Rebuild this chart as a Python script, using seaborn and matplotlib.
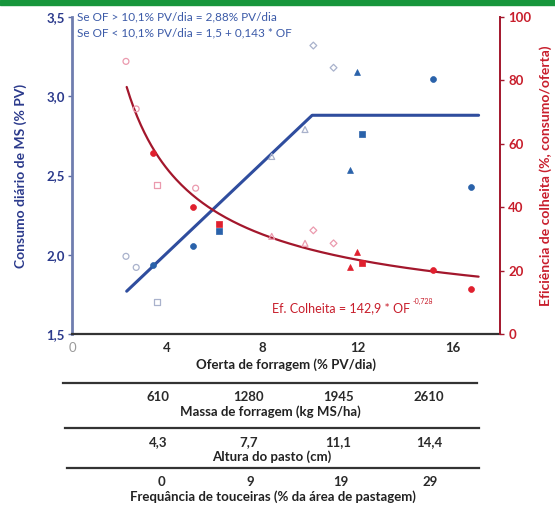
import numpy as np
import pandas as pd
import matplotlib
matplotlib.use("Agg")
import matplotlib.pyplot as plt
from matplotlib.patches import Rectangle
import seaborn as sns

sns.set_style("white")
plt.rcParams["font.family"] = ["Lato", "DejaVu Sans"]

# ---- data -------------------------------------------------------------
# Oferta de forragem (% PV/dia), consumo (% PV) and eficiência de colheita (%)
of_aberto_circulo = [2.27, 2.7, 5.2]
cons_aberto_circulo = [1.99, 1.92, np.nan]
ef_aberto_circulo = [86.0, 71.0, 46.0]

of_aberto_quadrado = [3.58]
cons_aberto_quadrado = [1.70]
ef_aberto_quadrado = [47.0]

of_aberto_triangulo = [8.4, 9.8]
cons_aberto_triangulo = [2.62, 2.79]
ef_aberto_triangulo = [30.8, 28.6]

of_aberto_losango = [10.15, 11.0]
cons_aberto_losango = [3.32, 3.18]
ef_aberto_losango = [32.7, 28.6]

of_cheio_circulo = [3.4, 5.1, 15.2, 16.8]
cons_cheio_circulo = [1.935, 2.055, 3.11, 2.43]
ef_cheio_circulo = [57.0, 40.0, 20.1, 14.2]

of_cheio_quadrado = [6.2, 12.2]
cons_cheio_quadrado = [2.15, 2.76]
ef_cheio_quadrado = [34.6, 22.3]

of_cheio_triangulo = [11.7, 12.0]
cons_cheio_triangulo = [2.535, 3.15]
ef_cheio_triangulo = [21.0, 25.8]

# broken-line fit of consumption (plateau 2,88 % PV above 10,1 % PV/dia)
of_ajuste = [2.3, 10.1, 17.1]
cons_ajuste = [1.77, 2.88, 2.88]

# power fit of harvest efficiency: 142,9 * OF^-0,728
ef_coef = 142.9
ef_expoente = -0.728
of_curva_lim = (2.3, 17.1)

x_ticks = [0, 4, 8, 12, 16]
massa_labels = ["610", "1280", "1945", "2610"]
altura_labels = ["4,3", "7,7", "11,1", "14,4"]
touceira_labels = ["0", "9", "19", "29"]

# ---- colours ----------------------------------------------------------
AZUL_LINHA = "#2f4d9e"
AZUL_TXT = "#2b3a8c"
AZUL_PONTO = "#2a62aa"
AZUL_CLARO = "#a9b2cc"
VERM_LINHA = "#a3172c"
VERM_TXT = "#c81e2c"
VERM_PONTO = "#e0202e"
ROSA_CLARO = "#eb9aae"
VERDE = "#17963c"

W, H = 555, 507
fig = plt.figure(figsize=(W / 100, H / 100), dpi=100)
fig.patches.append(Rectangle((0, 1 - 5 / H), 1, 5 / H, transform=fig.transFigure,
                             color=VERDE, zorder=0))

ax = fig.add_axes([72 / W, 1 - 334 / H, 428 / W, 317 / H])
ax2 = ax.twinx()

# ---- fitted lines -----------------------------------------------------
sns.lineplot(x=of_ajuste, y=cons_ajuste, ax=ax, color=AZUL_LINHA, lw=2.2,
             zorder=2)
of_curva = np.linspace(*of_curva_lim, 200)
ef_curva = ef_coef * of_curva ** ef_expoente
sns.lineplot(x=of_curva, y=ef_curva, ax=ax2, color=VERM_LINHA, lw=1.6,
             zorder=2)

# ---- points -----------------------------------------------------------
grupos = [
    (of_aberto_circulo, cons_aberto_circulo, ef_aberto_circulo, "o", False),
    (of_aberto_quadrado, cons_aberto_quadrado, ef_aberto_quadrado, "s", False),
    (of_aberto_triangulo, cons_aberto_triangulo, ef_aberto_triangulo, "^", False),
    (of_aberto_losango, cons_aberto_losango, ef_aberto_losango, "D", False),
    (of_cheio_circulo, cons_cheio_circulo, ef_cheio_circulo, "o", True),
    (of_cheio_quadrado, cons_cheio_quadrado, ef_cheio_quadrado, "s", True),
    (of_cheio_triangulo, cons_cheio_triangulo, ef_cheio_triangulo, "^", True),
]
for of_v, cons_v, ef_v, mk, cheio in grupos:
    df = pd.DataFrame({"oferta": of_v, "consumo": cons_v, "eficiencia": ef_v})
    size = 18 if mk != "D" else 12
    if cheio:
        sns.scatterplot(data=df, x="oferta", y="consumo", ax=ax, marker=mk,
                        s=size, color=AZUL_PONTO, edgecolor=AZUL_PONTO,
                        linewidth=0.5, zorder=3)
        sns.scatterplot(data=df, x="oferta", y="eficiencia", ax=ax2, marker=mk,
                        s=size, color=VERM_PONTO, edgecolor=VERM_PONTO,
                        linewidth=0.5, zorder=3)
    else:
        sns.scatterplot(data=df, x="oferta", y="consumo", ax=ax, marker=mk,
                        s=size, facecolor="none", edgecolor=AZUL_CLARO,
                        linewidth=0.9, zorder=3)
        sns.scatterplot(data=df, x="oferta", y="eficiencia", ax=ax2, marker=mk,
                        s=size, facecolor="none", edgecolor=ROSA_CLARO,
                        linewidth=0.9, zorder=3)

# ---- main axes styling -----------------------------------------------
ax.set_xlim(0, 18)
ax.set_ylim(1.5, 3.5)
ax2.set_ylim(0, 100)

ax.set_xticks(x_ticks)
ax.set_xticklabels([str(t) for t in x_ticks], fontsize=9.5, fontweight="bold",
                   color="#2a2a2a")
ax.get_xticklabels()[0].set_color("#9a9a9a")
ax.get_xticklabels()[0].set_fontweight("normal")
ax.tick_params(axis="x", length=3, width=1, color="#333333", pad=3)
ax.set_xlabel("Oferta de forragem (% PV/dia)", fontsize=9.5, fontweight="bold",
              color="#222222", labelpad=3)

yt = [1.5, 2.0, 2.5, 3.0, 3.5]
ax.set_yticks(yt)
ax.set_yticklabels([f"{v:.1f}".replace(".", ",") for v in yt], fontsize=9.5,
                   fontweight="bold", color=AZUL_TXT)
ax.tick_params(axis="y", length=3, width=1, color="#5a6aa6", pad=2)
ax.set_ylabel("Consumo diário de MS (% PV)", fontsize=10, fontweight="bold",
              color=AZUL_TXT, labelpad=14)

yt2 = [0, 20, 40, 60, 80, 100]
ax2.set_yticks(yt2)
ax2.set_yticklabels([str(v) for v in yt2], fontsize=9.5, fontweight="bold",
                    color=VERM_TXT)
ax2.tick_params(axis="y", length=3, width=1, color=VERM_LINHA, pad=3)
ax2.set_ylabel("Eficiência de colheita (%, consumo/oferta)", fontsize=10,
               fontweight="bold", color=VERM_TXT, labelpad=6)

for a in (ax, ax2):
    a.spines["top"].set_visible(False)
    a.set_facecolor("none")
ax.spines["right"].set_visible(False)
ax2.spines["left"].set_visible(False)
ax2.spines["bottom"].set_visible(False)
ax.spines["left"].set_color("#6f7daf")
ax.spines["left"].set_linewidth(2.0)
ax.spines["bottom"].set_color("#333333")
ax.spines["bottom"].set_linewidth(1.6)
ax2.spines["right"].set_color(VERM_LINHA)
ax2.spines["right"].set_linewidth(1.4)

# ---- equations --------------------------------------------------------
ax.text(0.2, 3.5, "Se OF > 10,1% PV/dia = 2,88% PV/dia", fontsize=8.5,
        color="#3b5aa8", va="center", ha="left")
ax.text(0.2, 3.4, "Se OF < 10,1% PV/dia = 1,5 + 0,143 * OF", fontsize=8.5,
        color="#3b5aa8", va="center", ha="left")
eq = ax2.text(8.4, 8.0, "Ef. Colheita = 142,9 * OF", fontsize=9,
              color=VERM_TXT, va="center", ha="left")
ax2.annotate("-0,728", xy=(1, 1), xycoords=eq, xytext=(2, -2),
             textcoords="offset points", fontsize=5, color=VERM_TXT,
             va="bottom", ha="left")

# ---- secondary scales below the chart --------------------------------
escalas = [
    (massa_labels, "Massa de forragem (kg MS/ha)", 383, 63, 477, 158, 429),
    (altura_labels, "Altura do pasto (cm)", 428, 65, 479, 158, 429),
    (touceira_labels, "Frequância de touceiras (% da área de pastagem)", 468, 67,
     479, 161, 430),
]
for labels, titulo, y_px, x0, x1, t0, t3 in escalas:
    sub = fig.add_axes([x0 / W, 1 - y_px / H, (x1 - x0) / W, 1e-4])
    passo = (t3 - t0) / (len(labels) - 1)
    sub.set_xlim((x0 - t0) / passo, (x1 - t0) / passo)
    sub.set_ylim(0, 1)
    sub.set_yticks([])
    sub.set_xticks(range(len(labels)))
    sub.set_xticklabels(labels, fontsize=9.5, fontweight="bold", color="#2a2a2a")
    sub.tick_params(axis="x", length=3, width=1, color="#333333", pad=3)
    for s in ("top", "left", "right"):
        sub.spines[s].set_visible(False)
    sub.spines["bottom"].set_color("#333333")
    sub.spines["bottom"].set_linewidth(1.6)
    sub.set_facecolor("none")
    sub.set_xlabel(titulo, fontsize=9.5, fontweight="bold", color="#222222",
                   labelpad=1.5)

fig.savefig("out.png", dpi=100)
